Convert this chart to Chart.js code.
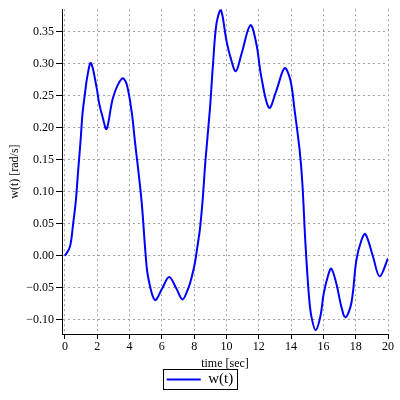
<!DOCTYPE html>
<html>
<head>
<meta charset="utf-8">
<script src="https://cdn.jsdelivr.net/npm/chart.js@4.4.1/dist/chart.umd.min.js"></script>
<style>
  html, body { margin: 0; padding: 0; background: #fff; }
  #wrap { width: 400px; height: 400px; }
</style>
</head>
<body>
<div id="wrap"><canvas id="myChart" width="400" height="400"></canvas></div>
<script>
const ctx = document.getElementById('myChart');

// valores
const tiempo = [0, 0.31, 0.51, 0.68, 0.82, 0.97, 1.09, 1.24, 1.38, 1.61, 1.96, 2.12, 2.33, 2.58, 2.99, 3.54, 3.81,
  4.12, 4.33, 4.74, 4.99, 5.15, 5.57, 6.02, 6.45, 6.9, 7.28, 7.63, 7.83, 8.04, 8.2, 8.35, 8.49, 8.6, 8.7,
  8.97, 9.17, 9.38, 9.65, 10.0, 10.25, 10.58, 10.93, 11.48, 11.85, 12.16, 12.64, 13.09, 13.6, 13.96, 14.22,
  14.53, 14.7, 14.89, 15.11, 15.26, 15.52, 15.81, 16.02, 16.3, 16.49, 16.8, 17.11, 17.36, 17.73, 18.04,
  18.35, 18.6, 19.07, 19.48, 20];
const w = [0, 0.014, 0.05, 0.087, 0.133, 0.18, 0.222, 0.253, 0.279, 0.301, 0.263, 0.238, 0.217, 0.198, 0.248, 0.277, 0.269,
  0.227, 0.18, 0.087, 0.004, -0.033, -0.069, -0.051, -0.033, -0.051, -0.068, -0.051, -0.035, -0.012, 0.014, 0.04, 0.076, 0.113, 0.149,
  0.227, 0.3, 0.362, 0.384, 0.336, 0.31, 0.288, 0.315, 0.36, 0.331, 0.279, 0.231, 0.258, 0.293, 0.274, 0.227,
  0.165, 0.113, 0.019, -0.064, -0.095, -0.116, -0.095, -0.059, -0.03, -0.02, -0.043, -0.079, -0.096, -0.074, -0.007,
  0.024, 0.034, -0.001, -0.032, -0.004];

const xTicks = [0, 2, 4, 6, 8, 10, 12, 14, 16, 18, 20];
const yTicks = [-0.10, -0.05, 0.00, 0.05, 0.10, 0.15, 0.20, 0.25, 0.30, 0.35];

const fuente = { family: "'Liberation Serif', 'DejaVu Serif', serif", size: 12 };

// marco alrededor de la leyenda
const marcoLeyenda = {
  id: 'marcoLeyenda',
  afterDraw(chart) {
    const hb = chart.legend.legendHitBoxes[0];
    if (!hb) return;
    const c = chart.ctx;
    c.save();
    c.strokeStyle = '#000';
    c.lineWidth = 1;
    c.strokeRect(Math.round(hb.left - 4) + 0.5, Math.round(hb.top - 3) + 0.5, Math.round(hb.width + 8), Math.round(hb.height + 5));
    c.restore();
  }
};

new Chart(ctx, {
  type: 'line',
  data: {
    datasets: [{
      label: 'w(t)',
      data: tiempo.map((t, i) => ({ x: t, y: w[i] })),
      borderColor: '#0000ff',
      backgroundColor: '#0000ff',
      borderWidth: 2,
      pointRadius: 0,
      fill: false,
      tension: 0.35
    }]
  },
  options: {
    responsive: false,
    animation: false,
    layout: { padding: { left: 8, right: 8, top: 9, bottom: 3 } },
    plugins: {
      tooltip: { enabled: false },
      legend: {
        position: 'bottom',
        labels: {
          usePointStyle: true,
          pointStyle: 'line',
          pointStyleWidth: 34,
          padding: 4,
          color: '#000',
          font: { family: fuente.family, size: 15 }
        }
      }
    },
    scales: {
      x: {
        type: 'linear',
        min: -0.18,
        max: 20,
        afterBuildTicks: (scale) => { scale.ticks = xTicks.map(v => ({ value: v })); },
        afterFit: (scale) => { scale.height = 34; scale.paddingRight = 12; },
        ticks: { color: '#000', font: fuente, padding: 1, maxRotation: 0, callback: (v) => String(v) },
        grid: { color: '#a0a0a0', tickColor: '#000', tickLength: 5 },
        border: { color: '#000', width: 1, dash: [2, 3] },
        title: { display: true, text: 'time [sec]', color: '#000', font: fuente, padding: { top: 0, bottom: -3 } }
      },
      y: {
        min: -0.122,
        max: 0.385,
        afterBuildTicks: (scale) => { scale.ticks = yTicks.map(v => ({ value: v })); },
        afterFit: (scale) => { scale.width = 54; },
        ticks: { color: '#000', font: fuente, padding: 2, callback: (v) => v.toFixed(2).replace('-', '\u2212') },
        grid: { color: '#a0a0a0', tickColor: '#000', tickLength: 6 },
        border: { color: '#000', width: 1, dash: [2, 3] },
        title: { display: true, text: 'w(t) [rad/s]', color: '#000', font: fuente, padding: 0 }
      }
    }
  },
  plugins: [marcoLeyenda]
});
</script>
</body>
</html>
